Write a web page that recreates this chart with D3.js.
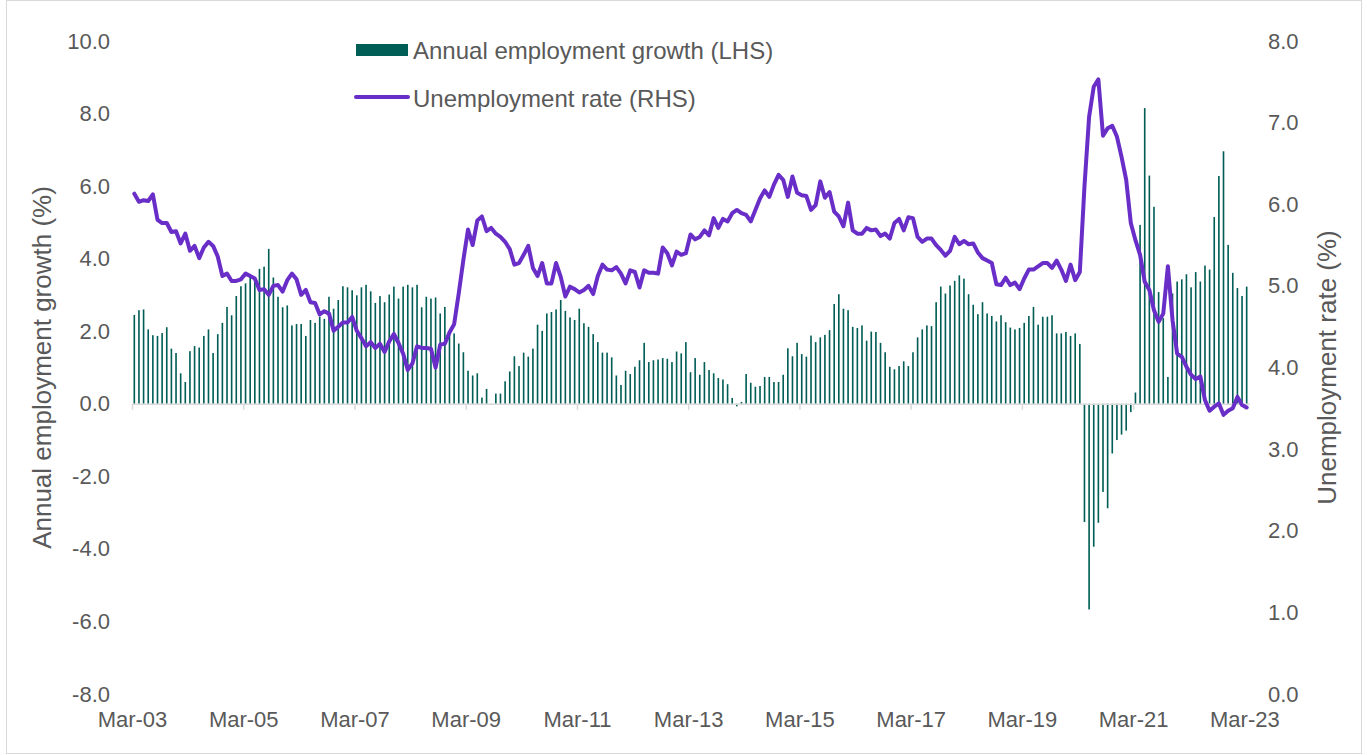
<!DOCTYPE html>
<html>
<head>
<meta charset="utf-8">
<script src="https://cdn.jsdelivr.net/npm/d3@7"></script>
<style>
  body { margin: 0; background: #fff; }
  text { font-family: "Liberation Sans", Arial, sans-serif; fill: #595959; }
</style>
</head>
<body>
<div id="chart"></div>
<script>
// monthly, Mar-03 .. Mar-23
const startMonth = new Date(2003, 2, 1);
const endMonth = new Date(2023, 2, 1);
const months = d3.timeMonth.range(startMonth, d3.timeMonth.offset(endMonth, 1));

const tickLabels = ["Mar-03", "Mar-05", "Mar-07", "Mar-09", "Mar-11", "Mar-13",
  "Mar-15", "Mar-17", "Mar-19", "Mar-21", "Mar-23"];

// Annual employment growth (%), LHS
const employmentGrowth = [
  2.45, 2.58, 2.60, 2.05, 1.89, 1.87, 1.95, 2.11, 1.52, 1.40,
  0.84, 0.60, 1.45, 1.59, 1.55, 1.87, 2.05, 1.40, 1.92, 2.23,
  2.67, 2.44, 2.97, 3.24, 3.32, 3.55, 3.45, 3.72, 3.78, 4.27,
  3.48, 2.95, 2.66, 2.71, 2.16, 2.20, 2.20, 1.87, 2.31, 2.23,
  2.40,
  2.34, 2.95, 2.62, 2.86, 3.24, 3.21, 3.13, 2.99, 3.21, 3.28,
  3.10, 2.78, 2.97, 2.80, 3.01, 3.23, 2.90, 3.23, 3.28, 3.21,
  3.28, 2.66, 2.95, 2.90, 2.93, 2.49, 2.67, 1.95, 1.94, 1.66,
  1.42, 0.91, 0.78, 0.84, 0.17, 0.41, -0.02, 0.28, 0.28, 0.62,
  0.89,
  1.31, 1.04, 1.41, 1.30, 1.52, 2.18, 2.01, 2.49, 2.53, 2.60,
  2.86, 2.56, 2.38, 2.31, 2.62, 2.22, 2.12, 1.92, 1.70, 1.41,
  1.41, 1.28, 0.78, 0.52, 0.91, 0.82, 1.02, 1.20, 1.68, 1.15,
  1.20, 1.22, 1.26, 1.24, 1.15, 1.44, 1.39, 1.70, 0.87, 1.26,
  0.80,
  1.15, 0.93, 0.84, 0.71, 0.67, 0.54, 0.16, -0.07, 0.05, 0.82,
  0.58, 0.47, 0.49, 0.74, 0.74, 0.60, 0.60, 0.80, 1.53, 1.31,
  1.68, 1.37, 1.30, 1.88, 1.70, 1.83, 1.90, 2.03, 2.75, 3.02,
  2.62, 2.58, 2.12, 2.09, 2.16, 1.74, 1.99, 1.98, 1.68, 1.42,
  1.02,
  0.95, 1.04, 1.17, 1.04, 1.42, 1.83, 2.05, 2.16, 2.14, 2.80,
  3.23, 3.04, 3.26, 3.39, 3.54, 3.45, 3.02, 2.73, 2.47, 2.80,
  2.49, 2.42, 2.27, 2.44, 2.25, 2.10, 2.05, 2.09, 2.23, 2.42,
  2.67, 2.18, 2.40, 2.40, 2.44, 1.94, 1.94, 1.98, 1.87, 1.94,
  1.65,
  -3.26, -5.67, -3.94, -3.28, -2.43, -2.88, -1.37, -1.00, -0.85, -0.74,
  -0.23, 0.31, 4.93, 8.15, 6.29, 5.43, 3.08, 2.36, 0.74, 3.04,
  3.37, 3.43, 3.57, 3.21, 3.63, 3.37, 3.81, 3.70, 5.15, 6.28,
  6.96, 4.38, 3.61, 3.19, 2.97, 3.23
];

// Unemployment rate (%), RHS
const unemploymentRate = [
  6.13, 6.03, 6.05, 6.04, 6.12, 5.81, 5.77, 5.77, 5.66, 5.67,
  5.52, 5.64, 5.43, 5.49, 5.34, 5.47, 5.54, 5.49, 5.36, 5.12,
  5.15, 5.06, 5.06, 5.08, 5.15, 5.12, 5.09, 4.95, 4.96, 4.89,
  5.00, 5.01, 4.93, 5.07, 5.15, 5.08, 4.89, 4.95, 4.80, 4.79,
  4.65,
  4.69, 4.66, 4.45, 4.50, 4.55, 4.55, 4.62, 4.45, 4.36, 4.26,
  4.31, 4.24, 4.29, 4.19, 4.32, 4.41, 4.30, 4.17, 3.97, 4.05,
  4.26, 4.24, 4.24, 4.23, 4.00, 4.28, 4.29, 4.43, 4.53, 4.91,
  5.32, 5.69, 5.50, 5.80, 5.85, 5.67, 5.71, 5.64, 5.60, 5.54,
  5.45,
  5.26, 5.28, 5.38, 5.49, 5.22, 5.12, 5.28, 5.03, 5.03, 5.28,
  5.11, 4.87, 4.99, 4.96, 4.92, 4.95, 5.00, 4.90, 5.12, 5.26,
  5.20, 5.19, 5.23, 5.15, 5.03, 5.19, 5.17, 4.98, 5.19, 5.16,
  5.16, 5.15, 5.47, 5.40, 5.25, 5.42, 5.38, 5.40, 5.63, 5.57,
  5.60,
  5.68, 5.62, 5.83, 5.71, 5.82, 5.79, 5.89, 5.93, 5.89, 5.87,
  5.79, 5.93, 6.07, 6.17, 6.09, 6.24, 6.36, 6.30, 6.09, 6.34,
  6.14, 6.11, 6.10, 5.93, 5.99, 6.28, 6.08, 6.15, 5.91, 5.85,
  5.73, 6.02, 5.68, 5.64, 5.64, 5.71, 5.68, 5.69, 5.61, 5.64,
  5.58,
  5.77, 5.82, 5.68, 5.84, 5.83, 5.60, 5.54, 5.58, 5.58, 5.50,
  5.44, 5.37, 5.43, 5.60, 5.51, 5.55, 5.51, 5.52, 5.41, 5.34,
  5.31, 5.28, 5.02, 5.01, 5.10, 5.01, 5.04, 4.96, 5.09, 5.20,
  5.20, 5.24, 5.28, 5.28, 5.22, 5.31, 5.20, 5.06, 5.26, 5.07,
  5.17,
  6.22, 7.07, 7.44, 7.53, 6.84, 6.93, 6.96, 6.83, 6.58, 6.30,
  5.77, 5.56, 5.38, 5.05, 4.95, 4.70, 4.56, 4.66, 5.24, 4.58,
  4.17, 4.13, 4.01, 3.91, 3.86, 3.89, 3.60, 3.47, 3.52, 3.56,
  3.42, 3.47, 3.50, 3.64, 3.54, 3.51
];

const leftTicks = [-8, -6, -4, -2, 0, 2, 4, 6, 8, 10];
const rightTicks = [0, 1, 2, 3, 4, 5, 6, 7, 8];

const width = 1367, height = 755;
const plot = { left: 132, right: 1249, top: 41, bottom: 694 };
const barColor = "#005e56";
const lineColor = "#6a2ec8";

const data = months.map((m, i) => ({ month: m, idx: i, growth: employmentGrowth[i], rate: unemploymentRate[i] }));

/* containers */
const svg = d3.select("#chart")
  .append("svg")
    .attr("width", width)
    .attr("height", height)
    .attr("viewBox", [0, 0, width, height]);

// outer frame
svg.append("rect")
  .attr("x", 6.5).attr("y", 0.5)
  .attr("width", 1355).attr("height", 753)
  .attr("fill", "none")
  .attr("stroke", "#d9d9d9")
  .attr("stroke-width", 1);

/* scales */
const xBand = d3.scaleBand()
  .domain(data.map(d => d.idx))
  .range([plot.left, plot.right])
  .paddingInner(0.65)
  .paddingOuter(0.325);

// category slot edges (ticks sit between categories)
const xSlot = d3.scaleLinear()
  .domain([0, data.length])
  .range([plot.left, plot.right]);

const yLeft = d3.scaleLinear()
  .domain([-8, 10])
  .range([plot.bottom, plot.top]);

const yRight = d3.scaleLinear()
  .domain([0, 8])
  .range([plot.bottom, plot.top]);

/* bars */
svg.append("g")
    .attr("class", "bars")
  .selectAll("rect")
  .data(data)
  .join("rect")
    .attr("x", d => xBand(d.idx))
    .attr("width", xBand.bandwidth())
    .attr("y", d => yLeft(Math.max(0, d.growth)))
    .attr("height", d => Math.abs(yLeft(d.growth) - yLeft(0)))
    .attr("fill", barColor);

/* horizontal axis at zero */
const tickIdx = d3.range(0, data.length, 24);
const xAxis = d3.axisBottom(xSlot)
  .tickValues(tickIdx)
  .tickSize(6)
  .tickSizeOuter(0)
  .tickFormat("");

const xAxisG = svg.append("g")
  .attr("transform", `translate(0, ${yLeft(0)})`)
  .call(xAxis);
xAxisG.select(".domain").attr("stroke", "#d9d9d9").attr("stroke-width", 1.5);
xAxisG.selectAll(".tick line").attr("stroke", "#d9d9d9").attr("stroke-width", 1.5);

// labels along the bottom
const xLabels = d3.axisBottom(xSlot)
  .tickValues(tickIdx)
  .tickSize(0)
  .tickPadding(17)
  .tickFormat((d, i) => tickLabels[i]);

const xLabelG = svg.append("g")
  .attr("transform", `translate(0, ${plot.bottom})`)
  .call(xLabels);
xLabelG.select(".domain").remove();
xLabelG.selectAll("text").style("font-size", "22px").attr("fill", "#595959");

/* line */
const line = d3.line()
  .x(d => xBand(d.idx) + xBand.bandwidth() / 2)
  .y(d => yRight(d.rate));

svg.append("path")
  .datum(data)
  .attr("fill", "none")
  .attr("stroke", lineColor)
  .attr("stroke-width", 4)
  .attr("stroke-linejoin", "round")
  .attr("stroke-linecap", "round")
  .attr("d", line);

/* vertical axes */
const fmt = d => d.toFixed(1);

const leftG = svg.append("g")
  .attr("transform", `translate(${plot.left}, 0)`)
  .call(d3.axisLeft(yLeft).tickValues(leftTicks).tickFormat(fmt).tickSize(0).tickPadding(22));
leftG.select(".domain").remove();
leftG.selectAll("text").style("font-size", "22px").attr("fill", "#595959");

const rightG = svg.append("g")
  .attr("transform", `translate(${plot.right}, 0)`)
  .call(d3.axisRight(yRight).tickValues(rightTicks).tickFormat(fmt).tickSize(0).tickPadding(19));
rightG.select(".domain").remove();
rightG.selectAll("text").style("font-size", "22px").attr("fill", "#595959");

/* axis titles */
svg.append("text")
  .attr("transform", `translate(42, ${(plot.top + plot.bottom) / 2}) rotate(-90)`)
  .attr("text-anchor", "middle")
  .attr("dominant-baseline", "central")
  .style("font-size", "26px")
  .text("Annual employment growth (%)");

svg.append("text")
  .attr("transform", `translate(1327, ${(plot.top + plot.bottom) / 2}) rotate(-90)`)
  .attr("text-anchor", "middle")
  .attr("dominant-baseline", "central")
  .style("font-size", "26px")
  .text("Unemployment rate (%)");

/* legend */
const legend = svg.append("g").attr("transform", "translate(356, 0)");
legend.append("rect")
  .attr("x", 0).attr("y", 44)
  .attr("width", 52).attr("height", 12)
  .attr("fill", barColor);
legend.append("text")
  .attr("x", 57).attr("y", 50)
  .attr("dominant-baseline", "central")
  .style("font-size", "24px")
  .text("Annual employment growth (LHS)");
legend.append("line")
  .attr("x1", 0).attr("x2", 52)
  .attr("y1", 97).attr("y2", 97)
  .attr("stroke", lineColor)
  .attr("stroke-width", 4)
  .attr("stroke-linecap", "round");
legend.append("text")
  .attr("x", 57).attr("y", 98)
  .attr("dominant-baseline", "central")
  .style("font-size", "24px")
  .text("Unemployment rate (RHS)");
</script>
</body>
</html>
